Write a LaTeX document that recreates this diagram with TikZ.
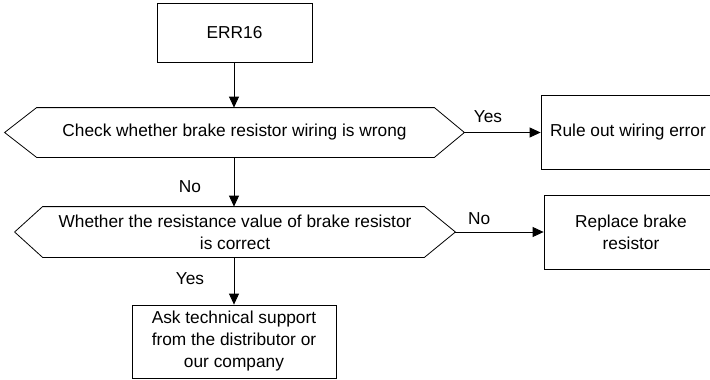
\documentclass[tikz,border=0pt]{standalone}
\usepackage{fontspec}
\setmainfont{Liberation Sans}
\usetikzlibrary{arrows.meta,calc}
\begin{document}
\begin{tikzpicture}[x=1pt,y=1pt,
  font=\fontsize{17.3}{22}\selectfont,
  line width=0.8pt,
  box/.style={draw, rectangle, align=center, inner sep=0pt},
  hexa/.style={rectangle, align=center, inner sep=0pt},
  arr/.style={draw, -{Triangle[length=11pt,width=10pt]}},
  lbl/.style={inner sep=0pt}
]
\useasboundingbox (0,0) rectangle (710,-380);
\fill[white] (0,0) rectangle (710,-380);

\node[box, minimum width=155pt, minimum height=59pt] (err) at (234.5,-32.5) {ERR16};

\node[hexa, minimum width=459pt, minimum height=49pt] (d1) at (234.5,-132.5)
  {Check whether brake resistor wiring is wrong};
\draw (d1.west) -- ($(d1.north west)+(32,0)$) -- ($(d1.north east)+(-30,0)$) -- (d1.east)
  -- ($(d1.south east)+(-30,0)$) -- ($(d1.south west)+(32,0)$) -- cycle;

\node[box, minimum width=174pt, minimum height=74pt] (r1) at (628,-132.5) {Rule out wiring error};

\node[hexa, minimum width=440pt, minimum height=50pt] (d2) at (235,-232)
  {Whether the resistance value of brake resistor\\is correct};
\draw (d2.west) -- ($(d2.north west)+(28,0)$) -- ($(d2.north east)+(-31,0)$) -- (d2.east)
  -- ($(d2.south east)+(-31,0)$) -- ($(d2.south west)+(28,0)$) -- cycle;

\node[box, minimum width=174pt, minimum height=74pt] (r2) at (631,-232) {Replace brake\\resistor};

\node[box, minimum width=204pt, minimum height=73pt] (ask) at (234,-341.5)
  {Ask technical support\\from the distributor or\\our company};

\draw[arr] (err.south -| 234,0) -- (d1.north -| 234,0);
\draw[arr] (d1.east) -- node[lbl, pos=0.31, yshift=15.5pt] {Yes} (r1.west |- d1.east);
\draw[arr] (d1.south -| 234,0) -- node[lbl, pos=0.6, xshift=-44pt] {No} (d2.north -| 234,0);
\draw[arr] (d2.east) -- node[lbl, pos=0.27, yshift=13pt] {No} (r2.west |- d2.east);
\draw[arr] (d2.south -| 234,0) -- node[lbl, pos=0.44, xshift=-44pt] {Yes} (ask.north);
\end{tikzpicture}
\end{document}
